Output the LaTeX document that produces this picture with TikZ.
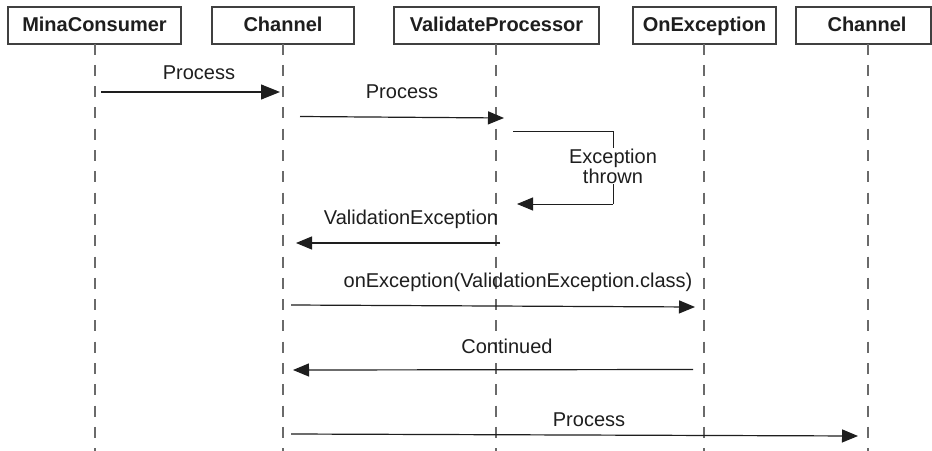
\documentclass[tikz,border=0pt]{standalone}
\usepackage{fontspec}
\setmainfont{Liberation Sans}
\usetikzlibrary{arrows.meta}
\definecolor{ink}{HTML}{1E1E1E}
\definecolor{lifegray}{HTML}{6A6A6A}
\begin{document}
\begin{tikzpicture}[x=1pt,y=-1pt,
  header/.style={draw=ink!85,line width=1.2pt,minimum height=37pt,inner sep=0pt,
    text height=15pt,text depth=3pt,
    font=\fontsize{20}{24}\selectfont\bfseries,text=ink},
  lifeline/.style={draw=lifegray,line width=1.4pt,dash pattern=on 11pt off 10.3pt},
  msg/.style={draw=ink,line width=1.2pt,-{Triangle[length=16pt,width=13pt]}},
  loopline/.style={draw=ink,line width=1pt},
  lbl/.style={anchor=base,inner sep=0pt,font=\fontsize{20}{24}\selectfont,text=ink},
]
\useasboundingbox (0,0) rectangle (932,450);
\fill[white] (0,0) rectangle (932,450);

% headers
\node[header,minimum width=173pt] (h1) at (94.5,25.5) {MinaConsumer};
\node[header,minimum width=142pt] (h2) at (283,25.5) {Channel};
\node[header,minimum width=205pt] (h3) at (496.5,25.5) {ValidateProcessor};
\node[header,minimum width=143pt] (h4) at (704.5,25.5) {OnException};
\node[header,minimum width=135pt] (h5) at (863.5,25.5) {\hspace*{7pt}Channel};

% lifelines
\coordinate (t1) at (95,43.5);  \coordinate (b1) at (95,452);
\coordinate (t2) at (283,43.5); \coordinate (b2) at (283,452);
\coordinate (t3) at (496,43.5); \coordinate (b3) at (496,452);
\coordinate (t4) at (704,43.5); \coordinate (b4) at (704,452);
\coordinate (t5) at (868,43.5); \coordinate (b5) at (868,452);
\draw[lifeline] (t1) -- (b1);
\draw[lifeline] (t2) -- (b2);
\draw[lifeline] (t3) -- (b3);
\draw[lifeline] (t4) -- (b4);
\draw[lifeline] (t5) -- (b5);

% message 1
\coordinate (m1s) at (101,92); \coordinate (m1e) at (280,92);
\draw[msg,-{Triangle[length=19pt,width=15pt]}] (m1s) -- (m1e);
\node[lbl] (l1) at (199,79) {Process};

% message 2
\coordinate (m2s) at (300,116.5); \coordinate (m2e) at (504,118);
\draw[msg] (m2s) -- (m2e);
\node[lbl] (l2) at (402,98) {Process};

% self loop
\coordinate (s1) at (513,131.5);
\coordinate (s2) at (613,131.5);
\coordinate (s3) at (613,204);
\coordinate (s4) at (517,204);
\draw[loopline] (s1) -- (s2) -- (s3);
\draw[msg,line width=1pt] (s3) -- (s4);
\node[fill=white,inner sep=1pt,align=center,font=\fontsize{20}{20}\selectfont,text=ink] (l3) at (613,166) {Exception\\thrown};

% message 4
\coordinate (m4s) at (500,243); \coordinate (m4e) at (296,243);
\draw[msg] (m4s) -- (m4e);
\node[lbl] (l4) at (411,224) {ValidationException};

% message 5
\coordinate (m5s) at (291,305); \coordinate (m5e) at (695,307);
\draw[msg] (m5s) -- (m5e);
\node[lbl] (l5) at (518,287) {onException(ValidationException.class)};

% message 6
\coordinate (m6s) at (693,369.5); \coordinate (m6e) at (293,370);
\draw[msg] (m6s) -- (m6e);
\node[lbl] (l6) at (507,353) {Continued};

% message 7
\coordinate (m7s) at (291,434); \coordinate (m7e) at (858,436);
\draw[msg] (m7s) -- (m7e);
\node[lbl] (l7) at (589,426) {Process};
\end{tikzpicture}
\end{document}
